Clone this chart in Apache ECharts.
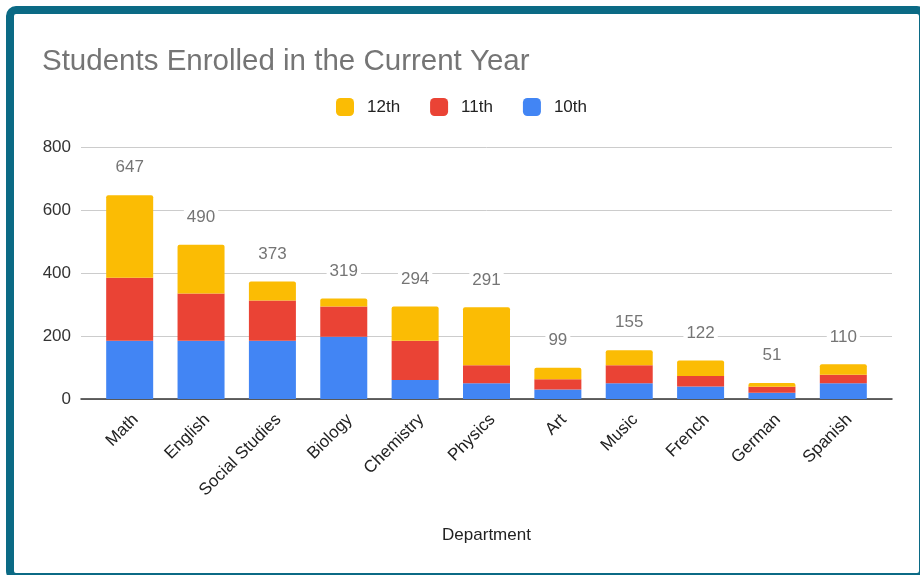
<!DOCTYPE html>
<html>
<head>
<meta charset="utf-8">
<script src="https://cdn.jsdelivr.net/npm/echarts@6/dist/echarts.min.js"></script>
<style>
  html, body { margin: 0; padding: 0; background: #ffffff; }
  #chart { width: 920px; height: 575px; }
</style>
</head>
<body>
<div id="chart"></div>
<script>
const categories = ['Math', 'English', 'Social Studies', 'Biology', 'Chemistry', 'Physics', 'Art', 'Music', 'French', 'German', 'Spanish'];
const grade10 = [185, 185, 185, 198, 60, 50, 30, 50, 40, 20, 50];
const grade11 = [200, 150, 128, 96, 125, 57, 33, 57, 33, 19, 27];
const grade12 = [262, 155, 60, 25, 109, 184, 36, 48, 49, 12, 33];
const totals = [647, 490, 373, 319, 294, 291, 99, 155, 122, 51, 110];
const yTicks = [0, 200, 400, 600, 800];

const FONT = '"Liberation Sans", Arial, sans-serif';
const chart = echarts.init(document.getElementById('chart'), null, { renderer: 'canvas' });

const option = {
  backgroundColor: '#ffffff',
  animation: false,
  textStyle: { fontFamily: FONT },
  title: {
    text: 'Students Enrolled in the Current Year',
    left: 37,
    top: 42,
    textStyle: { fontFamily: FONT, fontSize: 29.5, fontWeight: 'normal', color: '#757575' }
  },
  legend: {
    data: ['12th', '11th', '10th'],
    left: 331,
    top: 93,
    itemWidth: 18,
    itemHeight: 18,
    itemGap: 30,
    icon: 'roundRect',
    textStyle: { fontFamily: FONT, fontSize: 17, color: '#222222', padding: [0, 0, 0, 8] }
  },
  grid: [
    { left: 81, right: 28, top: 147, bottom: 176 },
    { left: 94, right: 41, top: 147, bottom: 176 }
  ],
  xAxis: [
    {
      gridIndex: 0, type: 'value', min: 0, max: 1, position: 'bottom',
      axisLine: { show: true, lineStyle: { color: '#333333', width: 1.5 } },
      axisTick: { show: false }, axisLabel: { show: false }, splitLine: { show: false }
    },
    {
      gridIndex: 1, type: 'category', data: categories, position: 'bottom',
      axisLine: { show: false }, axisTick: { show: false },
      axisLabel: { interval: 0, rotate: 45, margin: 12, verticalAlign: 'top', fontFamily: FONT, fontSize: 17, color: '#222222' },
      name: 'Department', nameLocation: 'middle', nameGap: 128,
      nameTextStyle: { fontFamily: FONT, fontSize: 17, color: '#222222' }
    }
  ],
  yAxis: [
    {
      gridIndex: 0, type: 'value', min: yTicks[0], max: yTicks[yTicks.length - 1], interval: 200,
      axisLine: { show: false }, axisTick: { show: false },
      axisLabel: { margin: 10, fontFamily: FONT, fontSize: 17, color: '#333333' },
      splitLine: { lineStyle: { color: '#cccccc', width: 1 } }
    },
    {
      gridIndex: 1, type: 'value', min: yTicks[0], max: yTicks[yTicks.length - 1], show: false,
      splitLine: { show: false }
    }
  ],
  series: [
    {
      name: '10th', type: 'bar', stack: 'total', xAxisIndex: 1, yAxisIndex: 1,
      data: grade10, barWidth: 47, itemStyle: { color: '#4285f4' }
    },
    {
      name: '11th', type: 'bar', stack: 'total', xAxisIndex: 1, yAxisIndex: 1,
      data: grade11, itemStyle: { color: '#ea4335' }
    },
    {
      name: '12th', type: 'bar', stack: 'total', xAxisIndex: 1, yAxisIndex: 1,
      data: grade12, itemStyle: { color: '#fbbc04', borderRadius: [2, 2, 0, 0] },
      label: {
        show: true, position: 'top', distance: 19,
        formatter: p => String(totals[p.dataIndex]),
        fontFamily: FONT, fontSize: 17, color: '#757575',
        backgroundColor: '#ffffff', padding: [0, 3]
      }
    }
  ],
  graphic: [
    {
      type: 'rect', silent: true, z: 100,
      shape: { x: 10, y: 10, width: 913, height: 567, r: 6 },
      style: { fill: 'none', stroke: '#0b6a85', lineWidth: 8 }
    }
  ]
};
chart.setOption(option);
</script>
</body>
</html>
